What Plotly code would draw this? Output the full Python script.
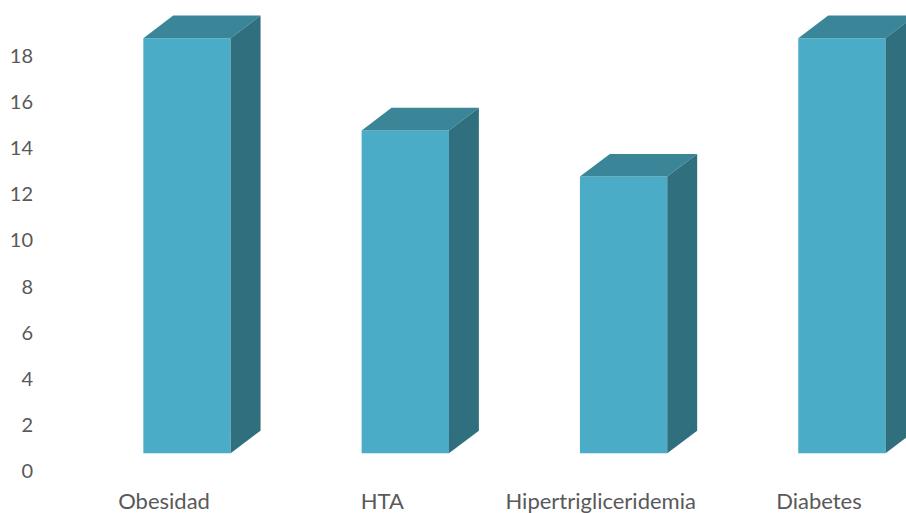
import plotly.graph_objects as go

# Chart data
categories = ["Obesidad", "HTA", "Hipertrigliceridemia", "Diabetes"]
values = [18, 14, 12, 18]
y_ticks = [0, 2, 4, 6, 8, 10, 12, 14, 16, 18]

# 3D box geometry (axis units)
BAR_W = 0.40        # front face width, in category units
DEPTH_X = 0.137     # horizontal depth offset
DEPTH_Y = 0.98      # vertical depth offset
FLOOR = 0.77        # front face base on the value axis
LABEL_SHIFT = -0.105

FRONT = "#4aacc6"
TOP = "#3a8698"
SIDE = "#306f7e"

xs = list(range(len(categories)))

fig = go.Figure()

# Top and side faces of each box
for i, v in zip(xs, values):
    l, r = i - BAR_W / 2, i + BAR_W / 2
    t = FLOOR + v
    fig.add_trace(go.Scatter(
        x=[l, r, r + DEPTH_X, l + DEPTH_X, l],
        y=[t, t, t + DEPTH_Y, t + DEPTH_Y, t],
        fill="toself", fillcolor=TOP, mode="lines",
        line=dict(width=0, color=TOP), hoverinfo="skip", showlegend=False))
    fig.add_trace(go.Scatter(
        x=[r, r + DEPTH_X, r + DEPTH_X, r, r],
        y=[FLOOR, FLOOR + DEPTH_Y, t + DEPTH_Y, t, FLOOR],
        fill="toself", fillcolor=SIDE, mode="lines",
        line=dict(width=0, color=SIDE), hoverinfo="skip", showlegend=False))

# Front faces
fig.add_trace(go.Bar(
    x=xs, y=values, base=[FLOOR] * len(values), width=BAR_W,
    marker=dict(color=FRONT, line=dict(width=0)), showlegend=False))

px_per_cat = 218.3
px_per_unit = 23.06
left_margin = 40
bottom_margin = 42
plot_h = 513 - bottom_margin
x0 = (left_margin - 187) / px_per_cat
x1 = (906 - 187) / px_per_cat

fig.update_layout(
    width=906, height=513,
    margin=dict(l=left_margin, r=0, t=0, b=bottom_margin, autoexpand=False),
    paper_bgcolor="white", plot_bgcolor="white",
    font=dict(family="Lato, 'Open Sans', sans-serif", color="#595959", size=20),
    xaxis=dict(
        range=[x0, x1], automargin=False,
        tickvals=[i + LABEL_SHIFT for i in xs], ticktext=categories,
        showgrid=False, zeroline=False, showline=False, ticks="",
        tickfont=dict(size=22), ticklabelstandoff=15),
    yaxis=dict(
        range=[0, plot_h / px_per_unit], automargin=False,
        tickvals=y_ticks, showgrid=False, zeroline=False, showline=False,
        ticks="", tickfont=dict(size=20), ticklabelstandoff=6),
)

fig.write_html("out.html")
